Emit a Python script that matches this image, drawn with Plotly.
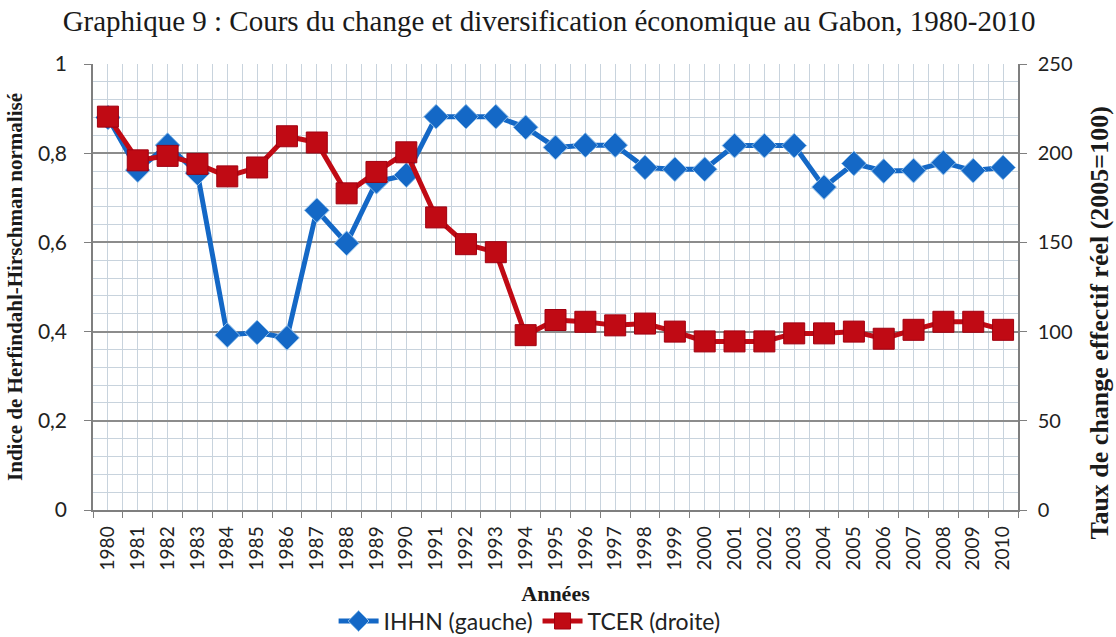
import plotly.graph_objects as go

# data
years = list(range(1980, 2011))
ihhn = [0.88, 0.762, 0.818, 0.755, 0.392, 0.398, 0.386, 0.672, 0.598, 0.736,
        0.751, 0.882, 0.882, 0.882, 0.858, 0.813, 0.818, 0.818, 0.768, 0.764,
        0.764, 0.817, 0.817, 0.817, 0.724, 0.777, 0.760, 0.761, 0.779, 0.761,
        0.768]
tcer = [220.5, 196, 198.5, 194, 187, 192, 209.5, 206, 177.5, 189.5,
        200.5, 164, 149, 144.5, 98, 106.5, 105.5, 103.5, 104.5, 100,
        94.5, 94.5, 94.5, 99, 99, 100, 96, 101, 105.5, 105.5,
        101]

title = "Graphique 9 : Cours du change et diversification économique au Gabon, 1980-2010"
right_title = "<b>Taux de change effectif réel (2005=100)</b>"
blue = "#1468C6"
red = "#C00A14"
serif = "Liberation Serif, Times New Roman, serif"
sans = "Lato, Open Sans, sans-serif"

fig = go.Figure()
fig.add_trace(go.Scatter(
    x=years, y=ihhn, name="IHHN (gauche)", mode="lines+markers",
    line=dict(color=blue, width=5),
    marker=dict(symbol="diamond", size=19, color=blue,
                line=dict(color="#8fbfea", width=1)),
))
fig.add_trace(go.Scatter(
    x=years, y=tcer, name="TCER (droite)", mode="lines+markers", yaxis="y2",
    line=dict(color=red, width=5),
    marker=dict(symbol="square", size=21, color=red,
                line=dict(color="#a00010", width=1)),
))

fig.update_layout(
    width=1116, height=637,
    margin=dict(l=93, r=98, t=64, b=127, autoexpand=False),
    paper_bgcolor="white", plot_bgcolor="white",
    separators=", ",
    title=dict(text=title, x=0.492, xanchor="center", y=0.967, yanchor="middle",
               font=dict(family=serif, size=29, color="#1a1a1a")),
    showlegend=True,
    legend=dict(orientation="h", x=0.472, xanchor="center", y=-0.249,
                yanchor="middle", font=dict(family=sans, size=23, color="#222"),
                itemwidth=40, bgcolor="rgba(0,0,0,0)"),
    xaxis=dict(
        range=[1979.5, 2010.5], tickmode="array", tickvals=years,
        ticktext=[str(y) for y in years], tickangle=-90,
        tickfont=dict(family=sans, size=19, color="#222"),
        ticks="", ticklabelstandoff=7, automargin=False,
        showgrid=True, gridcolor="#c8d3dd", gridwidth=1,
        showline=True, linecolor="#7f7f7f", linewidth=1.5,
        minor=dict(tickmode="linear", tick0=1979.5, dtick=1, ticks="outside",
                   ticklen=6, tickcolor="#7f7f7f", showgrid=True,
                   gridcolor="#c8d3dd", gridwidth=1),
        title=dict(text="<b>Années</b>", standoff=16,
                   font=dict(family=serif, size=22, color="#1a1a1a")),
        zeroline=False,
    ),
    yaxis=dict(
        range=[0, 1], tickmode="linear", dtick=0.2,
        tickfont=dict(family=sans, size=21, color="#222"),
        ticks="outside", ticklen=7, tickcolor="#7f7f7f",
        ticklabelstandoff=13, automargin=False,
        showgrid=True, gridcolor="#8c8c8c", gridwidth=1.5,
        showline=True, linecolor="#7f7f7f", linewidth=1.5,
        minor=dict(tickmode="linear", dtick=0.04, showgrid=True,
                   gridcolor="#c8d3dd", gridwidth=1),
        title=dict(text="<b>Indice de Herfindahl-Hirschman normalisé</b>",
                   standoff=10, font=dict(family=serif, size=21, color="#1a1a1a")),
        zeroline=False,
    ),
    yaxis2=dict(
        range=[0, 250], tickmode="linear", dtick=50, overlaying="y", side="right",
        tickfont=dict(family=sans, size=20, color="#222"),
        ticks="outside", ticklen=7, tickcolor="#7f7f7f",
        ticklabelstandoff=7, automargin=False,
        showgrid=False, showline=True, linecolor="#7f7f7f", linewidth=1.5,
        zeroline=False,
    ),
)

# right axis title sits a bit lower than the plot centre in the original
fig.add_annotation(text=right_title, textangle=-90, xref="paper", yref="paper",
                   x=1.0885, y=0.42, xanchor="center", yanchor="middle",
                   showarrow=False,
                   font=dict(family=serif, size=26, color="#1a1a1a"))

# the page body has a default 8px margin; drop it so the figure sits at 0,0
fig.write_html("out.html", config={"displayModeBar": False},
               post_script="document.body.style.margin='0';")
